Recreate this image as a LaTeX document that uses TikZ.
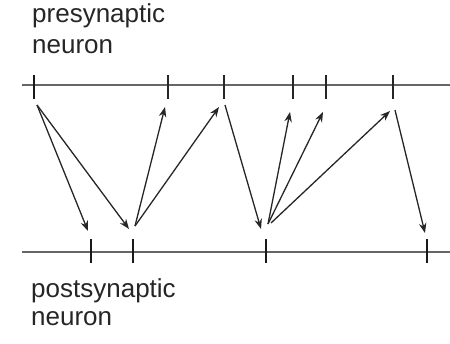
\documentclass[tikz,border=0pt]{standalone}
\usepackage{fontspec}
\setmainfont{Liberation Sans}
\usetikzlibrary{arrows.meta}
\begin{document}
\begin{tikzpicture}[x=1pt,y=-1pt,
  axis/.style={draw=black!60,line width=1.6pt},
  thintick/.style={draw=black!85,line width=1.5pt},
  thicktick/.style={draw=black!90,line width=2.8pt},
  spike/.style={draw=black!85,line width=1.3pt,-{Stealth[length=10pt,width=7.5pt]}},
  lbl/.style={anchor=base west,inner sep=0pt,font=\fontsize{26}{31}\selectfont,text=black!85}]
\useasboundingbox (0,0) rectangle (450,343);
% labels
\node[lbl] (pre1) at (32,22) {presynaptic};
\node[lbl] (pre2) at (32,53) {neuron};
\node[lbl] (post1) at (31,297) {postsynaptic};
\node[lbl] (post2) at (31,325) {neuron};
% axes
\coordinate (topL) at (22,85); \coordinate (topR) at (450,85);
\coordinate (botL) at (22,252); \coordinate (botR) at (450,252);
\draw[axis] (topL) -- (topR);
\draw[axis] (botL) -- (botR);
% top ticks
\foreach \n/\x in {T1/34,T2/168,T3/224,T4/293,T5/326,T6/393}{
  \coordinate (\n) at (\x,85);
}
\draw[thicktick] (34,75) -- (34,99);
\foreach \x in {168,224,293,326,393}{\draw[thintick] (\x,75) -- (\x,99);}
% bottom ticks
\foreach \n/\x in {B1/91,B2/133,B3/266,B4/427}{
  \coordinate (\n) at (\x,252);
  \draw[thicktick] (\x,239) -- (\x,263);
}
% arrow end points
\coordinate (s1) at (37,105);
\coordinate (e1) at (88,231);
\coordinate (e2) at (129,229);
\coordinate (s2) at (135,226);
\coordinate (e3) at (165,107);
\coordinate (e4) at (219,107);
\coordinate (s3) at (225,105);
\coordinate (e5) at (261,229);
\coordinate (s4) at (268,224);
\coordinate (s4b) at (271,223);
\coordinate (e6) at (290,112);
\coordinate (e7) at (323,112);
\coordinate (e8) at (390,111);
\coordinate (s5) at (395,110);
\coordinate (e9) at (425,233);
% spikes
\draw[spike] (s1) -- (e1);
\draw[spike] (s1) -- (e2);
\draw[spike] (s2) -- (e3);
\draw[spike] (s2) -- (e4);
\draw[spike] (s3) -- (e5);
\draw[spike] (s4) -- (e6);
\draw[spike] (s4) -- (e7);
\draw[spike] (s4b) -- (e8);
\draw[spike] (s5) -- (e9);
\end{tikzpicture}
\end{document}
